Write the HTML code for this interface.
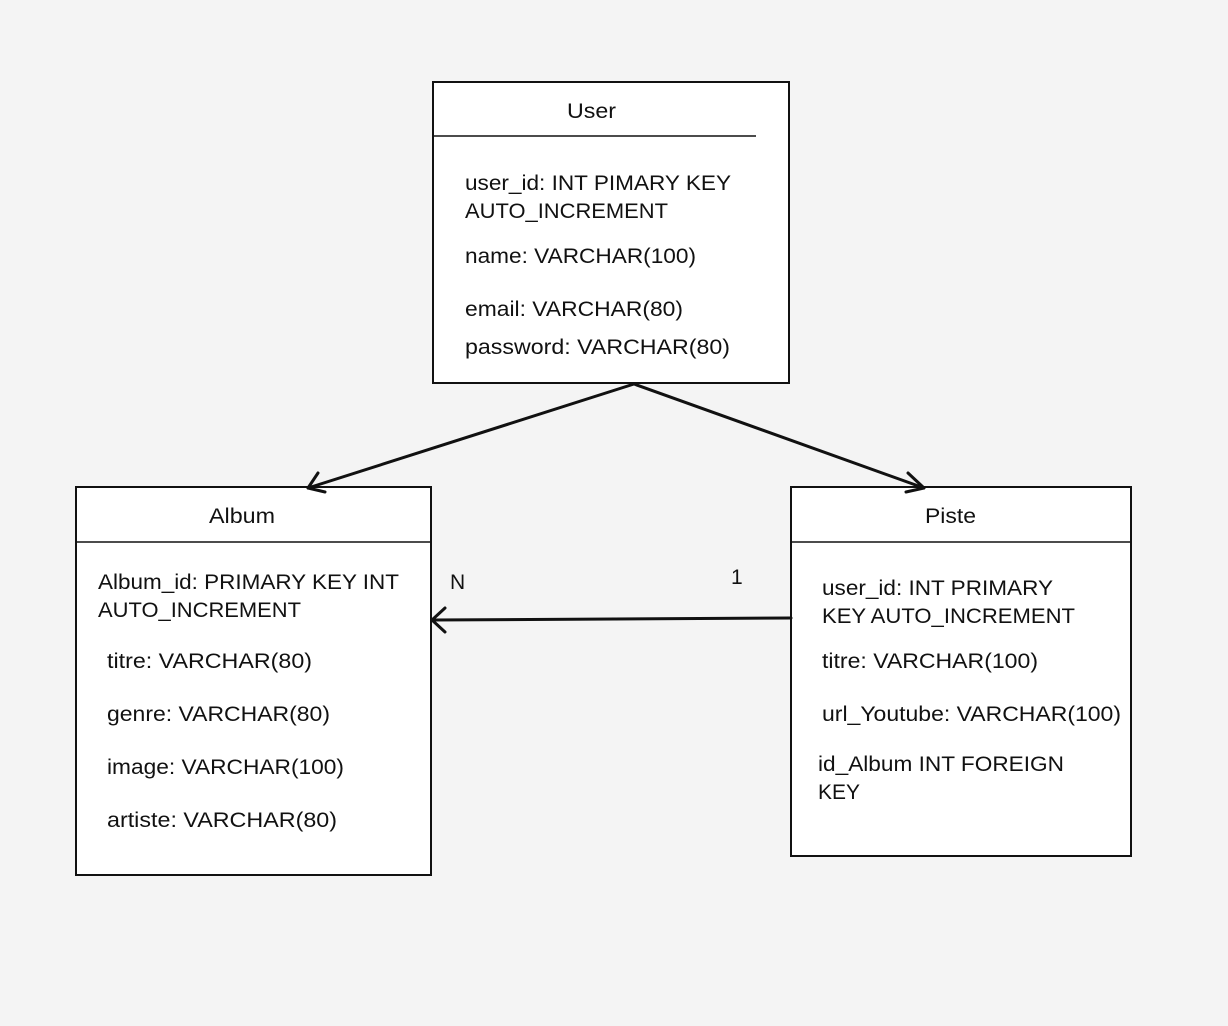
<!DOCTYPE html>
<html><head><meta charset="utf-8"><style>
html,body{margin:0;padding:0;background:#f4f4f4;}
svg{display:block}
text{font-family:"Liberation Sans",sans-serif;font-size:21px;fill:#111;}
</style></head><body>
<svg width="1228" height="1026" viewBox="0 0 1228 1026" xmlns="http://www.w3.org/2000/svg">
<rect x="0" y="0" width="1228" height="1026" fill="#f4f4f4"/>
<g fill="#fff" stroke="#111" stroke-width="2">
<rect x="433" y="82" width="356" height="301"/>
<rect x="76" y="487" width="355" height="388"/>
<rect x="791" y="487" width="340" height="369"/>
</g>
<g stroke="#111" stroke-width="1.5">
<line x1="433" y1="136" x2="756" y2="136"/>
<line x1="76" y1="542" x2="431" y2="542"/>
<line x1="791" y1="542" x2="1131" y2="542"/>
</g>
<g lengthAdjust="spacingAndGlyphs">
<text x="567" y="118" textLength="49" lengthAdjust="spacingAndGlyphs">User</text>
<text x="465" y="190" textLength="266" lengthAdjust="spacingAndGlyphs">user_id: INT PIMARY KEY</text>
<text x="465" y="218" textLength="203" lengthAdjust="spacingAndGlyphs">AUTO_INCREMENT</text>
<text x="465" y="263" textLength="231" lengthAdjust="spacingAndGlyphs">name: VARCHAR(100)</text>
<text x="465" y="316" textLength="218" lengthAdjust="spacingAndGlyphs">email: VARCHAR(80)</text>
<text x="465" y="354" textLength="265" lengthAdjust="spacingAndGlyphs">password: VARCHAR(80)</text>

<text x="209" y="523" textLength="66" lengthAdjust="spacingAndGlyphs">Album</text>
<text x="98" y="589" textLength="301" lengthAdjust="spacingAndGlyphs">Album_id: PRIMARY KEY INT</text>
<text x="98" y="617" textLength="203" lengthAdjust="spacingAndGlyphs">AUTO_INCREMENT</text>
<text x="107" y="668" textLength="205" lengthAdjust="spacingAndGlyphs">titre: VARCHAR(80)</text>
<text x="107" y="721" textLength="223" lengthAdjust="spacingAndGlyphs">genre: VARCHAR(80)</text>
<text x="107" y="774" textLength="237" lengthAdjust="spacingAndGlyphs">image: VARCHAR(100)</text>
<text x="107" y="827" textLength="230" lengthAdjust="spacingAndGlyphs">artiste: VARCHAR(80)</text>

<text x="925" y="523" textLength="51" lengthAdjust="spacingAndGlyphs">Piste</text>
<text x="822" y="595" textLength="231" lengthAdjust="spacingAndGlyphs">user_id: INT PRIMARY</text>
<text x="822" y="623" textLength="253" lengthAdjust="spacingAndGlyphs">KEY AUTO_INCREMENT</text>
<text x="822" y="668" textLength="216" lengthAdjust="spacingAndGlyphs">titre: VARCHAR(100)</text>
<text x="822" y="721" textLength="299" lengthAdjust="spacingAndGlyphs">url_Youtube: VARCHAR(100)</text>
<text x="818" y="771" textLength="246" lengthAdjust="spacingAndGlyphs">id_Album INT FOREIGN</text>
<text x="818" y="799" textLength="42" lengthAdjust="spacingAndGlyphs">KEY</text>
</g>

<text x="450" y="589">N</text>
<text x="731" y="584">1</text>

<g stroke="#111" stroke-width="3" fill="none" stroke-linecap="round" stroke-linejoin="round">
<line x1="634" y1="384" x2="308" y2="488"/>
<polyline points="318,473 308,488 325,492"/>
<line x1="634" y1="384" x2="924" y2="488"/>
<polyline points="908,473 924,488 906,492"/>
<line x1="791" y1="618" x2="432" y2="620"/>
<polyline points="445,608 432,620 445,632"/>
</g>
</svg>
</body></html>
